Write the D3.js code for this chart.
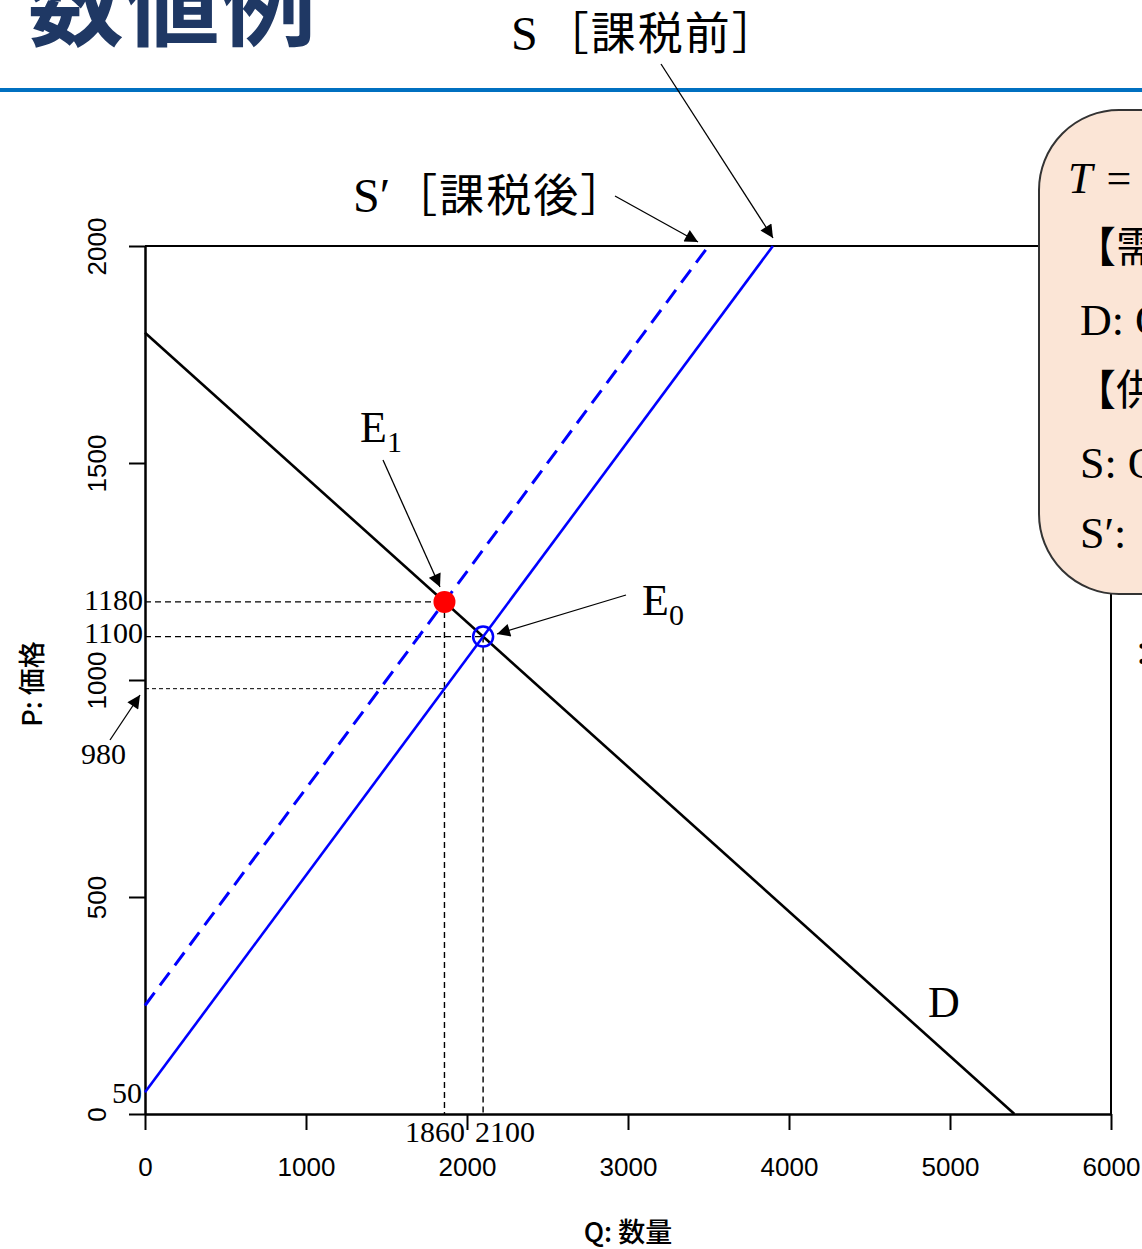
<!DOCTYPE html>
<html lang="ja">
<head>
<meta charset="UTF-8">
<title>数値例</title>
<script src="https://d3js.org/d3.v7.min.js"></script>
<style>
  body { margin: 0; padding: 0; background: #fff; }
  svg { display: block; }
  .serif { font-family: "Liberation Serif", "DejaVu Serif", serif; }
  .jp { font-family: "Noto Sans CJK JP", sans-serif; }
  .sans { font-family: "Liberation Sans", Arial, sans-serif; }
</style>
</head>
<body>
<script>
// --- données ---
var xTicks = [0, 1000, 2000, 3000, 4000, 5000, 6000];
var yTicks = [0, 500, 1000, 1500, 2000];
var demandQ = [0, 5400], demandP = [1800, 0];          // D
var supplyQ = [0, 3900], supplyP = [50, 2000];          // S 課税前
var supplyTaxQ = [0, 3500], supplyTaxP = [250, 2000];   // S' 課税後
var e0 = { q: 2100, p: 1100 };
var e1 = { q: 1860, p: 1180 };
var producerPrice = 980;
var interceptS = 50;

var width = 1142, height = 1249;

var x = d3.scaleLinear().domain([0, 6000]).range([145, 1111]);
var y = d3.scaleLinear().domain([0, 2000]).range([1114, 246]);

var svg = d3.select("body").append("svg")
    .attr("width", width)
    .attr("height", height);

var defs = svg.append("defs");
defs.append("marker")
    .attr("id", "arr")
    .attr("viewBox", "0 0 10 10")
    .attr("refX", 10).attr("refY", 5)
    .attr("markerWidth", 15).attr("markerHeight", 13)
    .attr("markerUnits", "userSpaceOnUse")
    .attr("orient", "auto")
    .append("path").attr("d", "M0,0 L10,5 L0,10 z").attr("fill", "#000");

// titre
svg.append("text").attr("class", "jp")
    .attr("x", 28).attr("y", 38)
    .attr("font-size", 96).attr("font-weight", "bold")
    .attr("fill", "#1f3864")
    .text("数値例");
svg.append("line")
    .attr("x1", 0).attr("x2", width).attr("y1", 90).attr("y2", 90)
    .attr("stroke", "#0070c0").attr("stroke-width", 4);

// cadre
var frame = svg.append("g").attr("fill", "none").attr("stroke", "#000").attr("stroke-width", 2);
frame.append("line").attr("x1", x(0)).attr("x2", x(6000)).attr("y1", y(2000)).attr("y2", y(2000));
frame.append("line").attr("x1", x(6000)).attr("x2", x(6000)).attr("y1", y(2000)).attr("y2", y(0));

// axes
var gx = svg.append("g").attr("transform", "translate(0," + y(0) + ")")
    .call(d3.axisBottom(x).tickValues(xTicks).tickSize(16).tickSizeOuter(0).tickFormat(d3.format("d")));
gx.selectAll("text").attr("class", "sans").attr("font-size", 26).attr("fill", "#000")
    .attr("y", 44).attr("dy", "0.71em");

var gy = svg.append("g").attr("transform", "translate(" + x(0) + ",0)")
    .call(d3.axisLeft(y).tickValues(yTicks).tickSize(16).tickSizeOuter(0).tickFormat(d3.format("d")));
gy.selectAll("text").attr("class", "sans").attr("font-size", 26).attr("fill", "#000")
    .attr("x", null).attr("dy", null)
    .attr("text-anchor", "middle")
    .attr("transform", "translate(-39,0) rotate(-90)");
svg.selectAll(".domain").attr("stroke-width", 2.5);
svg.selectAll(".tick line").attr("stroke-width", 2);

// titres des axes
svg.append("text").attr("class", "jp")
    .attr("x", 628).attr("y", 1242).attr("text-anchor", "middle")
    .attr("font-size", 27).attr("font-weight", 500).text("Q: 数量");
svg.append("text").attr("class", "jp")
    .attr("transform", "translate(42,684) rotate(-90)").attr("text-anchor", "middle")
    .attr("font-size", 27).attr("font-weight", 500).text("P: 価格");

// lignes de référence pointillées
var ref = svg.append("g").attr("stroke", "#000").attr("fill", "none");
ref.append("line").attr("x1", x(0)).attr("x2", x(e1.q)).attr("y1", y(e1.p)).attr("y2", y(e1.p))
    .attr("stroke-width", 1.4).attr("stroke-dasharray", "6,4");
ref.append("line").attr("x1", x(0)).attr("x2", x(e0.q)).attr("y1", y(e0.p)).attr("y2", y(e0.p))
    .attr("stroke-width", 1.4).attr("stroke-dasharray", "6,4");
ref.append("line").attr("x1", x(0)).attr("x2", x(e1.q)).attr("y1", y(producerPrice)).attr("y2", y(producerPrice))
    .attr("stroke-width", 1).attr("stroke-dasharray", "4,3");
ref.append("line").attr("x1", x(e1.q)).attr("x2", x(e1.q)).attr("y1", y(e1.p)).attr("y2", y(0))
    .attr("stroke-width", 1.4).attr("stroke-dasharray", "6,4");
ref.append("line").attr("x1", x(e0.q)).attr("x2", x(e0.q)).attr("y1", y(e0.p)).attr("y2", y(0))
    .attr("stroke-width", 1.4).attr("stroke-dasharray", "6,4");

// courbes
var line = d3.line().x(function(d) { return x(d[0]); }).y(function(d) { return y(d[1]); });
svg.append("path").datum(d3.zip(demandQ, demandP)).attr("d", line)
    .attr("fill", "none").attr("stroke", "#000").attr("stroke-width", 2.6);
svg.append("path").datum(d3.zip(supplyQ, supplyP)).attr("d", line)
    .attr("fill", "none").attr("stroke", "#0000ff").attr("stroke-width", 2.6);
svg.append("path").datum(d3.zip(supplyTaxQ, supplyTaxP)).attr("d", line)
    .attr("fill", "none").attr("stroke", "#0000ff").attr("stroke-width", 3)
    .attr("stroke-dasharray", "16,9");

// équilibres
svg.append("circle").attr("cx", x(e1.q)).attr("cy", y(e1.p)).attr("r", 11).attr("fill", "#ff0000");
svg.append("circle").attr("cx", x(e0.q)).attr("cy", y(e0.p)).attr("r", 10)
    .attr("fill", "none").attr("stroke", "#0000ff").attr("stroke-width", 2.5);

// étiquettes des valeurs
var vals = svg.append("g").attr("class", "serif").attr("font-size", 30).attr("fill", "#000");
vals.append("text").attr("x", 143).attr("y", 610).attr("text-anchor", "end").text(e1.p);
vals.append("text").attr("x", 143).attr("y", 643).attr("text-anchor", "end").text(e0.p);
vals.append("text").attr("x", 81).attr("y", 764).text(producerPrice);
vals.append("text").attr("x", 142).attr("y", 1103).attr("text-anchor", "end").text(interceptS);
vals.append("text").attr("x", 465).attr("y", 1142).attr("text-anchor", "end").text(e1.q);
vals.append("text").attr("x", 475).attr("y", 1142).text(e0.q);

// flèches
var arrows = [
    [383, 460, 440, 587],
    [626, 595, 497, 634],
    [110, 740, 140, 695],
    [615, 196, 698, 242],
    [661, 64, 773, 238]
];
svg.append("g").selectAll("line").data(arrows).join("line")
    .attr("x1", function(d) { return d[0]; }).attr("y1", function(d) { return d[1]; })
    .attr("x2", function(d) { return d[2]; }).attr("y2", function(d) { return d[3]; })
    .attr("stroke", "#000").attr("stroke-width", 1.3)
    .attr("marker-end", "url(#arr)");

// E1, E0, D
function eLabel(px, py, sub) {
    var t = svg.append("text").attr("class", "serif").attr("x", px).attr("y", py).attr("font-size", 44);
    t.append("tspan").text("E");
    if (sub !== undefined) {
        t.append("tspan").attr("font-size", 30).attr("dy", 10).text(sub);
    }
}
eLabel(360, 442, "1");
eLabel(642, 615, "0");
svg.append("text").attr("class", "serif").attr("x", 928).attr("y", 1017).attr("font-size", 44).text("D");

// S / S' étiquettes
var sLab = svg.append("text").attr("x", 511).attr("y", 50);
sLab.append("tspan").attr("class", "serif").attr("font-size", 48).text("S");
sLab.append("tspan").attr("class", "jp").attr("font-size", 45).attr("dx", 6)
    .attr("letter-spacing", 2).text("［課税前］");
var s2Lab = svg.append("text").attr("x", 353).attr("y", 212);
s2Lab.append("tspan").attr("class", "serif").attr("font-size", 48).text("S′");
s2Lab.append("tspan").attr("class", "jp").attr("font-size", 45).attr("dx", 2)
    .attr("letter-spacing", 2).text("［課税後］");

// encadré
svg.append("rect")
    .attr("x", 1039).attr("y", 110).attr("width", 220).attr("height", 484)
    .attr("rx", 80).attr("ry", 80)
    .attr("fill", "#fbe5d6").attr("stroke", "#333").attr("stroke-width", 2);
var box = svg.append("g").attr("font-size", 44).attr("fill", "#000");
var tLine = box.append("text").attr("class", "serif").attr("x", 1068).attr("y", 193);
tLine.append("tspan").attr("font-style", "italic").text("T");
tLine.append("tspan").attr("dx", 14).text("=");
tLine.append("tspan").attr("dx", 14).text("200");
box.append("text").attr("class", "jp").attr("x", 1074).attr("y", 262).attr("font-size", 42).text("【需要】");
box.append("text").attr("class", "serif").attr("x", 1080).attr("y", 335).text("D: Q = 5400 − 3P");
box.append("text").attr("class", "jp").attr("x", 1074).attr("y", 405).attr("font-size", 42).text("【供給】");
box.append("text").attr("class", "serif").attr("x", 1080).attr("y", 478).text("S: Q = 2P − 100");
var sp = box.append("text").attr("class", "serif").attr("x", 1080).attr("y", 548);
sp.append("tspan").text("S′:");
sp.append("tspan").attr("dx", 20).text("Q = 2P − 500");
box.append("text").attr("class", "serif").attr("x", 1136).attr("y", 664).text(":");
</script>
</body>
</html>
